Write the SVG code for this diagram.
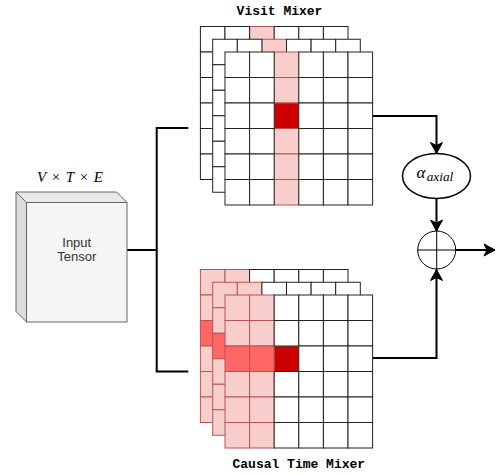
<svg xmlns="http://www.w3.org/2000/svg" xmlns:xlink="http://www.w3.org/1999/xlink" width="498" height="474" viewBox="0 0 498 474">
<style>
.w{fill:#fff;stroke:#222;stroke-width:1}
.p{fill:#f8cecc;stroke:#b85450;stroke-width:1}
.m{fill:#ff6666;stroke:#b85450;stroke-width:1}
.d{fill:#cc0000;stroke:#b85450;stroke-width:1}
.title{font-family:"Liberation Mono",monospace;font-weight:bold;font-size:13px;fill:#000;text-anchor:middle}
.conn{fill:none;stroke:#000;stroke-width:2;stroke-linejoin:miter}
.thin{fill:none;stroke:#000;stroke-width:1}
.lbl{font-family:"Liberation Sans",Arial,sans-serif;font-size:13px;fill:#333;text-anchor:middle}
</style>
<defs>
<rect id="c" width="24.6" height="25.5"/>
<g id="w2" class="w"><use href="#c" x="0"/><use href="#c" x="24.6"/></g>
<g id="w3" class="w"><use href="#c" x="0"/><use href="#c" x="24.6"/><use href="#c" x="49.2"/></g>
<g id="w4" class="w"><use href="#c" x="0"/><use href="#c" x="24.6"/><use href="#c" x="49.2"/><use href="#c" x="73.8"/></g>
<g id="vm">
<use href="#c" class="p" x="49.2" y="0"/>
<use href="#c" class="p" x="49.2" y="25.5"/>
<use href="#c" class="d" x="49.2" y="51"/>
<use href="#c" class="p" x="49.2" y="76.5"/>
<use href="#c" class="p" x="49.2" y="102"/>
<use href="#c" class="p" x="49.2" y="127.5"/>
<use href="#w2" x="0" y="0"/><use href="#w3" x="73.8" y="0"/>
<use href="#w2" x="0" y="25.5"/><use href="#w3" x="73.8" y="25.5"/>
<use href="#w2" x="0" y="51"/><use href="#w3" x="73.8" y="51"/>
<use href="#w2" x="0" y="76.5"/><use href="#w3" x="73.8" y="76.5"/>
<use href="#w2" x="0" y="102"/><use href="#w3" x="73.8" y="102"/>
<use href="#w2" x="0" y="127.5"/><use href="#w3" x="73.8" y="127.5"/>
</g>
<g id="tm">
<use href="#c" class="p" x="0" y="0"/><use href="#c" class="p" x="24.6" y="0"/>
<use href="#c" class="p" x="0" y="25.5"/><use href="#c" class="p" x="24.6" y="25.5"/>
<use href="#c" class="m" x="0" y="51"/><use href="#c" class="m" x="24.6" y="51"/>
<use href="#c" class="d" x="49.2" y="51"/>
<use href="#c" class="p" x="0" y="76.5"/><use href="#c" class="p" x="24.6" y="76.5"/>
<use href="#c" class="p" x="0" y="102"/><use href="#c" class="p" x="24.6" y="102"/>
<use href="#c" class="p" x="0" y="127.5"/><use href="#c" class="p" x="24.6" y="127.5"/>
<use href="#w4" x="49.2" y="0"/>
<use href="#w4" x="49.2" y="25.5"/>
<use href="#w3" x="73.8" y="51"/>
<use href="#w4" x="49.2" y="76.5"/>
<use href="#w4" x="49.2" y="102"/>
<use href="#w4" x="49.2" y="127.5"/>
</g>
<marker id="arr" viewBox="-12 -7 13 14" refX="0" refY="0" markerWidth="13" markerHeight="14" markerUnits="userSpaceOnUse" orient="auto">
<path d="M-11,-6 L0,0 L-11,6 L-8,0 Z" fill="#000" stroke="#000" stroke-width="1"/>
</marker>
</defs>

<g id="connectors">
<path class="conn" d="M127,250 H156.7 V128 H188.3"/>
<path class="conn" d="M156.7,250 V371.5 H188.3"/>
<path class="conn" d="M372.6,116 H436.5 V153.5" marker-end="url(#arr)"/>
<path class="conn" d="M436.5,198.5 V231" marker-end="url(#arr)"/>
<path class="conn" d="M372.6,358 H436.5 V269.5" marker-end="url(#arr)"/>
<path class="conn" d="M456,250 H495" marker-end="url(#arr)"/>
</g>

<g id="input-tensor">
<polygon points="16,192 26.5,202.5 26.5,322 16,311.5" fill="#dcdcdc" stroke="#666" stroke-width="1"/>
<polygon points="16,192 116.5,192 127,202.5 26.5,202.5" fill="#e9e9e9" stroke="#666" stroke-width="1"/>
<rect x="26.5" y="202.5" width="100.5" height="119.5" fill="#f5f5f5" stroke="#666" stroke-width="1"/>
<text class="lbl" x="76.75" y="246.5">Input</text>
<text class="lbl" x="76.75" y="261">Tensor</text>
</g>

<g id="dims">
<text x="37" y="181.7" font-family="Liberation Serif, serif" font-size="15" fill="#000" textLength="66" lengthAdjust="spacing"><tspan font-style="italic">V</tspan> × <tspan font-style="italic">T</tspan> × <tspan font-style="italic">E</tspan></text>
</g>

<g id="visit-mixer">
<text class="title" x="279.5" y="15">Visit Mixer</text>
<use href="#vm" x="200.4" y="26.5"/>
<use href="#vm" x="212.7" y="39.25"/>
<use href="#vm" x="225" y="52"/>
</g>

<g id="causal-time-mixer">
<use href="#tm" x="200.4" y="269.5"/>
<use href="#tm" x="212.7" y="282.25"/>
<use href="#tm" x="225" y="295"/>
<text class="title" x="298.8" y="468">Causal Time Mixer</text>
</g>

<g id="alpha">
<ellipse cx="436.5" cy="176" rx="34" ry="22.5" fill="#fff" stroke="#000" stroke-width="1.5"/>
<text x="416.5" y="178.3" font-family="Liberation Serif, serif" font-style="italic" fill="#000"><tspan font-size="17">α</tspan><tspan font-size="12" dy="2.4" x="426.7" textLength="26.6" lengthAdjust="spacingAndGlyphs">axial</tspan></text>
</g>

<g id="sum">
<circle cx="436.7" cy="250" r="19" fill="#fff" stroke="#000" stroke-width="1"/>
<path class="thin" d="M417.7,250 H455.7 M436.7,231 V269"/>
</g>
</svg>
